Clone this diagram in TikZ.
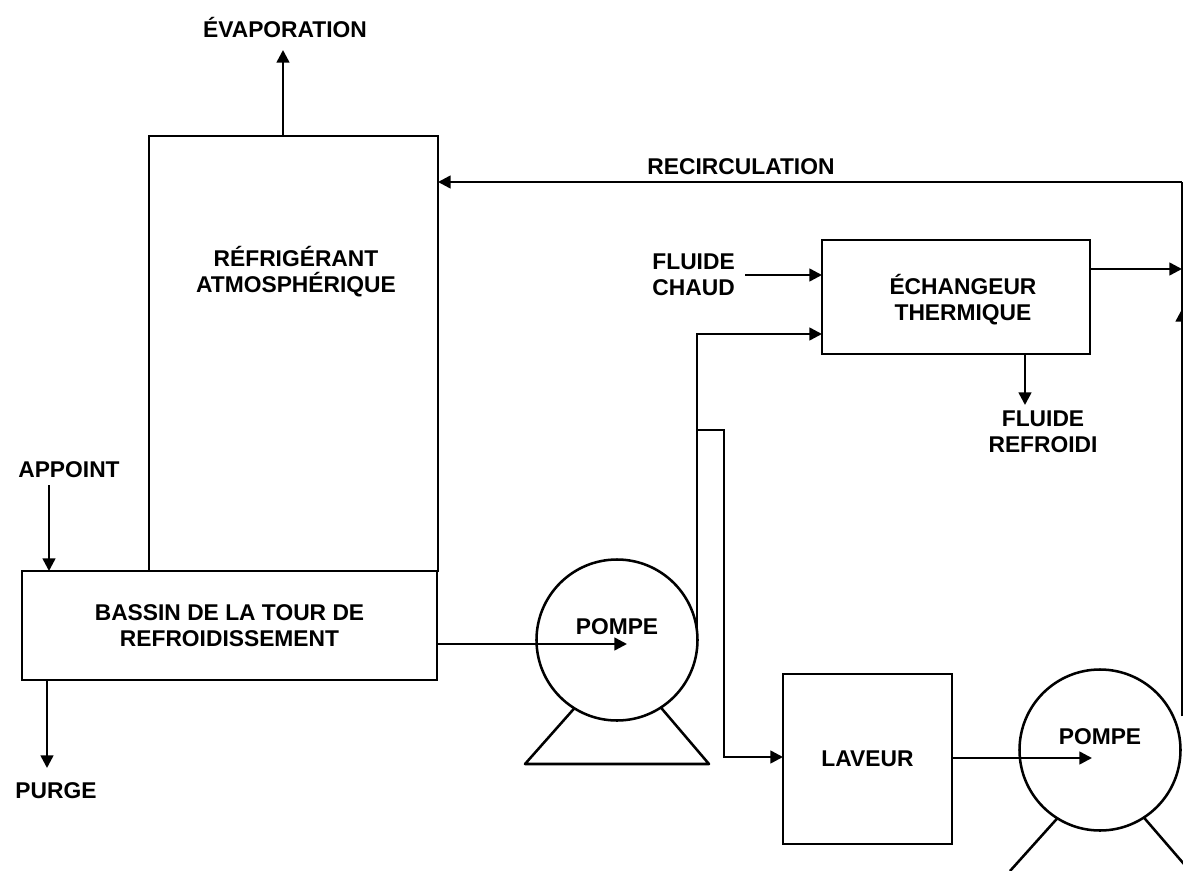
\documentclass[tikz,border=0pt]{standalone}
\usepackage{fontspec}
\setmainfont{Liberation Sans}
\usetikzlibrary{arrows.meta, positioning}
\def\px{0.75pt}

\begin{document}
\begin{tikzpicture}[
        x=0.75pt, y=-0.75pt,
        box/.style={rectangle, draw, line width=1.9pt, outer sep=0pt, inner sep=0pt, align=center, font=\fontsize{17.1}{19.6}\selectfont\bfseries},
        pump/.style={circle, draw, line width=1.9pt, outer sep=0pt, inner sep=0pt, minimum size=161*\px},
        txt/.style={inner sep=0pt, align=center, font=\fontsize{17.1}{19.6}\selectfont\bfseries},
        arrow/.style={-{Triangle[length=9.5pt, width=9.5pt]}, line width=1.9pt},
        line/.style={line width=1.9pt}
    ]
        \useasboundingbox (0,0) rectangle (1183,871);
        \clip (0,0) rectangle (1183,871);

        % Nodes
        \node[box, minimum width=289*\px, minimum height=435*\px] (tower) at (293.5,353.5) {};
        \node[txt] (towertext) at (296,272) {RÉFRIGÉRANT\\ATMOSPHÉRIQUE};
        \node[box, minimum width=415*\px, minimum height=109*\px] (basin) at (229.5,625.5) {BASSIN DE LA TOUR DE\\REFROIDISSEMENT};
        \node[box, minimum width=268*\px, minimum height=114*\px] (exchanger) at (956,297) {};
        \node[txt] (exchangertext) at (963,300) {ÉCHANGEUR\\THERMIQUE};
        \node[box, minimum width=169*\px, minimum height=170*\px] (washer) at (867.5,759) {LAVEUR};
        \node[pump] (pumpa) at (617,640) {};
        \node[pump] (pumpb) at (1100,750) {};
        \node[txt] (pumpatext) at (617,627) {POMPE};
        \node[txt] (pumpbtext) at (1100,737) {POMPE};

        \node[txt] (evaporation) at (285,28) {ÉVAPORATION};
        \node[txt] (recirculation) at (741,167) {RECIRCULATION};
        \node[txt] (makeup) at (69,470) {APPOINT};
        \node[txt] (blowdown) at (56,791) {PURGE};
        \node[txt, align=right, anchor=east] (hotfluid) at (735,275) {FLUIDE\\CHAUD};
        \node[txt] (coldfluid) at (1043,432) {FLUIDE\\REFROIDI};

        % Helper points
        \coordinate (topright) at (1182,182);
        \coordinate (pumpbout) at (1182,716);
        \coordinate (upperjoin) at (1182,269);
        \coordinate (uptip) at (1182,309);
        \coordinate (branch) at (697,430);
        \coordinate (riser) at (724,430);

        % Connections
        \draw[arrow] (tower.north -| 283,0) -- (283,50);
        \draw[line] (pumpbout) -- (topright);
        \draw[arrow] (topright) -- (tower.east |- topright);
        \draw[arrow] (pumpbout) -- (uptip);
        \draw[arrow] (exchanger.east |- upperjoin) -- (upperjoin);
        \draw[arrow] (745,275) -- (exchanger.west |- 0,275);
        \draw[arrow] (697,652) -- (697,334) -- (exchanger.west |- 0,334);
        \draw[arrow] (branch) -- (riser) -- (724,757) -- (washer.west |- 0,757);
        \draw[arrow] (1025,354) -- (1025,405);
        \draw[arrow] (49,485) -- (49,571);
        \draw[arrow] (47,680) -- (47,768);
        \draw[arrow] (basin.east |- 0,644) -- (627,644);
        \draw[arrow] (washer.east |- 0,758) -- (1092,758);

        % Pump stands
        \draw[line, line join=round] (pumpa.-122.5) -- (525,764) -- (709,764) -- (pumpa.-57.5);
        \draw[line] (pumpb.-122.5) -- (1010,871);
        \draw[line] (pumpb.-57.5) -- (1190,871);
    \end{tikzpicture}
\end{document}
